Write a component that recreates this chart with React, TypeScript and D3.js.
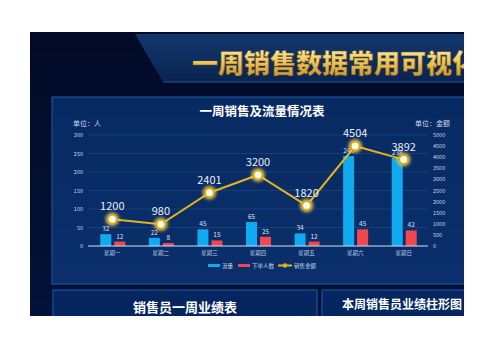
import React from "react";
import * as d3 from "d3";

const days = ["星期一", "星期二", "星期三", "星期四", "星期五", "星期六", "星期日"];
const flow = [32, 22, 45, 65, 34, 243, 238];
const orders = [12, 8, 15, 25, 12, 45, 42];
const sales = [1200, 980, 2401, 3200, 1820, 4504, 3892];
const leftTicks = [0, 50, 100, 150, 200, 250, 300];
const rightTicks = [0, 500, 1000, 1500, 2000, 2500, 3000, 3500, 4000, 4500, 5000];
const legendItems = ["流量", "下单人数", "销售金额"];

const FONT = "'Noto Sans CJK SC', 'Noto Sans', sans-serif";

export default function App() {
  const x = d3.scaleBand<string>().domain(days).range([88, 428]).padding(0);
  const yL = d3.scaleLinear().domain([0, 300]).range([246, 135]);
  const yR = d3.scaleLinear().domain([0, 5000]).range([246, 135]);
  const cx = (d: string) => (x(d) as number) + x.bandwidth() / 2;
  const line = d3
    .line<number>()
    .x((_, i) => cx(days[i]))
    .y((v) => yR(v));

  return (
    <svg
      width={503}
      height={356}
      style={{ position: "absolute", left: 0, top: 0, background: "#fff" }}
      fontFamily={FONT}
    >
      <defs>
        <linearGradient id="bg" x1="0" y1="0" x2="0" y2="1">
          <stop offset="0" stopColor="#020a26" />
          <stop offset="1" stopColor="#03123a" />
        </linearGradient>
        <linearGradient id="banner" x1="0" y1="0" x2="0" y2="1">
          <stop offset="0" stopColor="#12386e" />
          <stop offset="1" stopColor="#0a2352" />
        </linearGradient>
        <linearGradient id="panel" x1="0" y1="0" x2="0" y2="1">
          <stop offset="0" stopColor="#082a62" />
          <stop offset="1" stopColor="#0a2f6a" />
        </linearGradient>
        <linearGradient id="gold" x1="0" y1="0" x2="0" y2="1">
          <stop offset="0" stopColor="#fff6c4" />
          <stop offset="0.5" stopColor="#f0c85a" />
          <stop offset="1" stopColor="#c08a28" />
        </linearGradient>
        <filter id="glow" x="-50%" y="-50%" width="200%" height="200%">
          <feGaussianBlur stdDeviation="1.5" />
        </filter>
        <clipPath id="clip">
          <rect x={30} y={32} width={434} height={284} />
        </clipPath>
      </defs>

      <g clipPath="url(#clip)">
        <rect x={30} y={32} width={434} height={284} fill="url(#bg)" />
        {/* title banner */}
        <path d="M135,34 L470,34 L470,82 L163,82 Z" fill="url(#banner)" />
        <line x1={163} y1={82} x2={470} y2={82} stroke="#1f5a9c" strokeWidth={1} />
        <text
          x={192}
          y={73}
          fontSize={26}
          fontWeight={900}
          fill="url(#gold)"
          stroke="#6a4a10"
          strokeWidth={0.4}
        >
          一周销售数据常用可视化图表
        </text>

        {/* chart panel */}
        <rect x={52} y={97} width={430} height={187} fill="url(#panel)" stroke="#1d5ea8" strokeWidth={1} />
        <text x={262} y={116} fontSize={12.5} fontWeight={700} fill="#ffffff" textAnchor="middle">
          一周销售及流量情况表
        </text>
        <text x={73} y={126} fontSize={7} fill="#c8d6ee">单位：人</text>
        <text x={415} y={126} fontSize={7} fill="#c8d6ee">单位：金额</text>

        {/* gridlines */}
        {leftTicks.slice(1).map((t) => (
          <line key={t} x1={88} x2={428} y1={yL(t)} y2={yL(t)} stroke="#2a5a9a" strokeWidth={0.6} opacity={0.7} />
        ))}
        {leftTicks.map((t) => (
          <text key={t} x={83} y={yL(t) + 2} fontSize={5.5} fill="#c8d6ee" textAnchor="end">
            {t}
          </text>
        ))}
        {rightTicks.map((t) => (
          <text key={t} x={433} y={yR(t) + 2} fontSize={5.5} fill="#c8d6ee">
            {t}
          </text>
        ))}

        {/* bars */}
        {days.map((d, i) => (
          <g key={d}>
            <rect x={cx(d) - 12} y={yL(flow[i])} width={11} height={246 - yL(flow[i])} fill="#10aaf0" />
            <rect x={cx(d) + 2} y={yL(orders[i])} width={11} height={246 - yL(orders[i])} fill="#f0484e" />
            <text x={cx(d) - 6.5} y={yL(flow[i]) - 3} fontSize={6.5} fill="#d8e4f6" textAnchor="middle">
              {flow[i]}
            </text>
            <text x={cx(d) + 7.5} y={yL(orders[i]) - 3} fontSize={6.5} fill="#d8e4f6" textAnchor="middle">
              {orders[i]}
            </text>
            <text x={cx(d)} y={255} fontSize={5.5} fill="#b8c8e6" textAnchor="middle">
              {d}
            </text>
          </g>
        ))}
        <line x1={88} x2={428} y1={246} y2={246} stroke="#cfe4ff" strokeWidth={1} />

        {/* line */}
        <path d={line(sales) as string} fill="none" stroke="#e2b41c" strokeWidth={2} />
        {sales.map((v, i) => (
          <g key={i}>
            <circle cx={cx(days[i])} cy={yR(v)} r={7} fill="#ffd84a" opacity={0.7} filter="url(#glow)" />
            <circle cx={cx(days[i])} cy={yR(v)} r={5.5} fill="#d8a818" />
            <circle cx={cx(days[i])} cy={yR(v)} r={3.5} fill="#fffbe6" />
            <text x={cx(days[i])} y={yR(v) - 9} fontSize={11} fill="#e8eef8" textAnchor="middle">
              {v}
            </text>
          </g>
        ))}

        {/* legend */}
        <rect x={208} y={264} width={12} height={3} fill="#10aaf0" />
        <text x={222} y={267.5} fontSize={5.5} fill="#c8d6ee">{legendItems[0]}</text>
        <rect x={238} y={264} width={12} height={3} fill="#f0484e" />
        <text x={252} y={267.5} fontSize={5.5} fill="#c8d6ee">{legendItems[1]}</text>
        <line x1={278} x2={292} y1={265.5} y2={265.5} stroke="#e2b41c" strokeWidth={2} />
        <circle cx={285} cy={265.5} r={2.2} fill="#e2b41c" />
        <text x={294} y={267.5} fontSize={5.5} fill="#c8d6ee">{legendItems[2]}</text>

        {/* bottom panels */}
        <rect x={53} y={290} width={264} height={40} fill="#062660" stroke="#1d5ea8" strokeWidth={1} />
        <rect x={322} y={290} width={160} height={40} fill="#062660" stroke="#1d5ea8" strokeWidth={1} />
        <text x={185} y={312} fontSize={13} fontWeight={700} fill="#ffffff" textAnchor="middle">
          销售员一周业绩表
        </text>
        <text x={402} y={309} fontSize={12} fontWeight={700} fill="#ffffff" textAnchor="middle">
          本周销售员业绩柱形图
        </text>
      </g>
    </svg>
  );
}
